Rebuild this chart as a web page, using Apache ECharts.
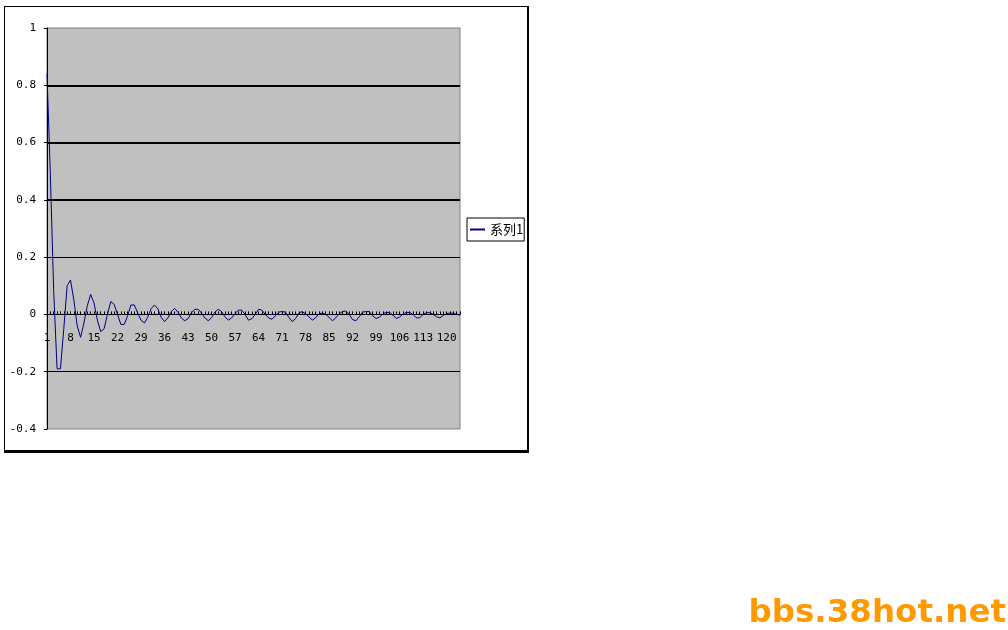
<!DOCTYPE html>
<html><head><meta charset="utf-8">
<script src="https://cdn.jsdelivr.net/npm/echarts@6/dist/echarts.min.js"></script>
<style>html,body{margin:0;padding:0;background:#fff}#c{width:1008px;height:630px}</style>
</head><body><div id="c"></div>
<script>
const seriesName = '系列1';
const series1Values = [
  0.84, 0.49, 0.08, -0.19, -0.19, -0.05, 0.10, 0.12, 0.05, -0.04,
  -0.08, -0.03, 0.03, 0.07, 0.04, -0.02, -0.06, -0.05, 0.00, 0.045,
  0.035, 0.00, -0.035, -0.035, -0.005, 0.033, 0.033, 0.005, -0.02, -0.03,
  -0.01, 0.02, 0.033, 0.02, -0.01, -0.025, -0.012, 0.01, 0.021, 0.008,
  -0.012, -0.022, -0.015, 0.005, 0.018, 0.018, 0.005, -0.012, -0.022, -0.012,
  0.008, 0.018, 0.01, -0.008, -0.02, -0.012, 0.003, 0.015, 0.015, 0.0,
  -0.02, -0.015, 0.0, 0.018, 0.015, 0.0, -0.012, -0.017, -0.005, 0.008,
  0.01, 0.008, -0.01, -0.025, -0.015, 0.005, 0.01, 0.002, -0.008, -0.02,
  -0.012, 0.002, 0.005, 0.0, -0.01, -0.022, -0.012, 0.002, 0.01, 0.012,
  0.0, -0.018, -0.022, -0.008, 0.008, 0.01, 0.01, -0.005, -0.014, -0.01,
  0.002, 0.007, 0.007, -0.002, -0.014, -0.01, 0.002, 0.007, 0.007, 0.0,
  -0.012, -0.012, 0.0, 0.006, 0.006, 0.0, -0.008, -0.012, -0.004, 0.003,
  0.005, 0.004, 0.0, -0.002
];
const categories = series1Values.map((_, i) => String(i + 1));
const yMin = -0.4, yMax = 1, yInterval = 0.2;
const xAxisCrossValue = 0;
const thinGridValues = [-0.2, 0.2];
const thickGridValues = [0.4, 0.6, 0.8];
const watermarkText = 'bbs.38hot.net';

const labelFont = 'DejaVu Sans Mono';
const gridTop = 28, gridHeight = 401;
const chart = echarts.init(document.getElementById('c'), null, {renderer: 'canvas'});
chart.setOption({
  animation: false,
  backgroundColor: '#ffffff',
  graphic: [
    {type: 'rect', z: -100, shape: {x: 4, y: 6, width: 525, height: 447}, style: {fill: '#000'}, silent: true},
    {type: 'rect', z: -99, shape: {x: 5, y: 7, width: 522, height: 443}, style: {fill: '#fff'}, silent: true},
    {type: 'text', z: 10, style: {text: watermarkText, x: 1006, y: 630, textAlign: 'right', textVerticalAlign: 'bottom',
      fill: '#FF9900', font: 'bold 32.5px "DejaVu Sans"'}, silent: true}
  ],
  grid: {left: 47, top: gridTop, width: 413, height: gridHeight, show: true, backgroundColor: '#C0C0C0', borderColor: '#808080', borderWidth: 1},
  legend: {
    left: 467, top: 218, orient: 'vertical',
    backgroundColor: '#fff', borderColor: '#000', borderWidth: 1,
    padding: [4, 1, 4, 3], itemWidth: 15, itemHeight: 2, itemGap: 0,
    icon: 'rect',
    textStyle: {fontFamily: 'Noto Sans CJK SC', fontSize: 13, lineHeight: 15, color: '#000'},
    data: [seriesName]
  },
  xAxis: {
    type: 'category', data: categories, boundaryGap: false,
    axisLine: {onZero: false, lineStyle: {color: '#000', width: 1}},
    axisTick: {show: true, inside: true, length: 3, interval: 0, lineStyle: {color: '#000'}},
    axisLabel: {interval: 6, margin: 18, color: '#000', fontFamily: labelFont, fontSize: 11},
    splitLine: {show: false}
  },
  yAxis: {
    type: 'value', min: yMin, max: yMax, interval: yInterval,
    axisLine: {show: true, lineStyle: {color: '#000', width: 1}},
    axisTick: {show: true, length: 3, lineStyle: {color: '#000'}},
    axisLabel: {margin: 11, color: '#000', fontFamily: labelFont, fontSize: 11},
    splitLine: {show: false}
  },
  series: [{
    name: seriesName, type: 'line', data: series1Values,
    symbol: 'none', showSymbol: false,
    lineStyle: {color: '#000080', width: 1}, itemStyle: {color: '#000080'},
    markLine: {
      silent: true, symbol: 'none', label: {show: false},
      lineStyle: {color: '#000', type: 'solid'},
      data: thinGridValues.map(v => ({yAxis: v, lineStyle: {width: 1, color: '#000', type: 'solid'}}))
        .concat(thickGridValues.map(v => ({yAxis: v, lineStyle: {width: 2, color: '#000', type: 'solid'}})))
    }
  }]
});
// move the whole x axis (line, ticks, labels) up to where y = 0, using the library's own scale
const yZeroPx = chart.convertToPixel({yAxisIndex: 0}, xAxisCrossValue);
chart.setOption({xAxis: {offset: yZeroPx - (gridTop + gridHeight)}});
</script></body></html>
